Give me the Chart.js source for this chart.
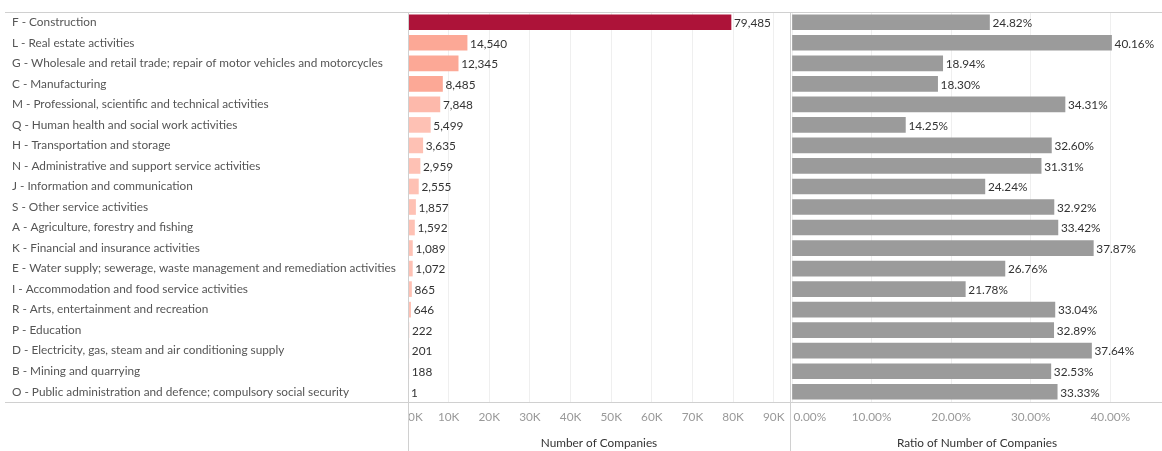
<!DOCTYPE html>
<html><head><meta charset="utf-8">
<script src="https://cdn.jsdelivr.net/npm/chart.js@4"></script>
<style>
html,body{margin:0;padding:0;background:#fff;}
#wrap{position:relative;width:1162px;height:451px;overflow:hidden;}
#c1{position:absolute;left:0;top:0;}
#c2{position:absolute;left:791px;top:0;}
</style></head><body>
<div id="wrap"><canvas id="c1" width="791" height="451"></canvas><canvas id="c2" width="371" height="451"></canvas></div>
<script>
const categories = [
  "F - Construction",
  "L - Real estate activities",
  "G - Wholesale and retail trade; repair of motor vehicles and motorcycles",
  "C - Manufacturing",
  "M - Professional, scientific and technical activities",
  "Q - Human health and social work activities",
  "H - Transportation and storage",
  "N - Administrative and support service activities",
  "J - Information and communication",
  "S - Other service activities",
  "A - Agriculture, forestry and fishing",
  "K - Financial and insurance activities",
  "E - Water supply; sewerage, waste management and remediation activities",
  "I - Accommodation and food service activities",
  "R - Arts, entertainment and recreation",
  "P - Education",
  "D - Electricity, gas, steam and air conditioning supply",
  "B - Mining and quarrying",
  "O - Public administration and defence; compulsory social security"
];
const companies = [79485,14540,12345,8485,7848,5499,3635,2959,2555,1857,1592,1089,1072,865,646,222,201,188,1];
const ratioPct = [24.82,40.16,18.94,18.30,34.31,14.25,32.60,31.31,24.24,32.92,33.42,37.87,26.76,21.78,33.04,32.89,37.64,32.53,33.33];
const companyTicks = [0,10000,20000,30000,40000,50000,60000,70000,80000,90000];
const ratioTicks = [0,10,20,30,40];
const axisTitles = ["Number of Companies","Ratio of Number of Companies"];

const FONT = "Lato";
const FS = 11.8;
function colorFor(v){
  if (v > 50000) return '#AD1339';
  if (v > 8000) return '#FCA896';
  if (v > 6000) return '#FDB9AB';
  return '#FEC1B4';
}
const LINE = '#d0d0d0';

const valueLabels = (fmt) => ({
  id:'valueLabels',
  afterDatasetsDraw(chart){
    const ctx = chart.ctx;
    const meta = chart.getDatasetMeta(0);
    ctx.save();
    ctx.font = FS + 'px ' + FONT;
    ctx.fillStyle = '#333';
    ctx.textBaseline = 'middle';
    ctx.textAlign = 'left';
    meta.data.forEach((el,i)=>{
      const v = chart.data.datasets[0].data[i];
      ctx.fillText(fmt(v), el.x + 3, el.y + 1);
    });
    ctx.restore();
  }
});

const frame = (verticals, hStart) => ({
  id:'frame',
  afterDraw(chart){
    const ctx = chart.ctx;
    const W = chart.width;
    ctx.save();
    ctx.strokeStyle = LINE;
    ctx.lineWidth = 1;
    ctx.beginPath();
    ctx.moveTo(hStart, 12.5); ctx.lineTo(W, 12.5);
    ctx.moveTo(hStart, 402.5); ctx.lineTo(W, 402.5);
    verticals.forEach(x=>{ ctx.moveTo(x+0.5, 12); ctx.lineTo(x+0.5, 451); });
    ctx.stroke();
    ctx.restore();
  }
});

function keepTicks(list){
  return function(scale){ scale.ticks = list.map(v=>({value:v})); };
}

const common = {
  responsive:false,
  devicePixelRatio:1,
  animation:false,
  indexAxis:'y',
  plugins:{legend:{display:false}, tooltip:{enabled:false}},
};

new Chart(document.getElementById('c1'), {
  type:'bar',
  data:{labels:categories, datasets:[{data:companies, backgroundColor:companies.map(colorFor), barThickness:15, borderWidth:0}]},
  options:Object.assign({}, common, {
    layout:{padding:{left:12, top:12, right:1, bottom:0}},
    scales:{
      y:{
        grid:{display:false}, border:{display:false},
        ticks:{crossAlign:'far', color:'#555', font:{family:FONT, size:FS}, autoSkip:false},
        afterFit(s){ s.width = 396; }
      },
      x:{
        min:0, max:94000,
        afterBuildTicks: keepTicks(companyTicks),
        grid:{color:'#efefef', drawTicks:false}, border:{display:false},
        ticks:{color:'#999', font:{family:FONT, size:FS}, padding:8, maxRotation:0, autoSkip:false,
          callback:(v)=> v===0 ? '\u2002\u2002 0K' : (v/1000)+'K'},
        title:{display:true, text:axisTitles[0], color:'#333', font:{family:FONT, size:FS}, padding:{top:0,bottom:1}},
        afterFit(s){ s.height = 49; s.paddingLeft = 0; s.paddingRight = 0; }
      }
    }
  }),
  plugins:[valueLabels(v=>v.toLocaleString('en-US')), frame([408,790], 5)]
});

new Chart(document.getElementById('c2'), {
  type:'bar',
  data:{labels:categories, datasets:[{data:ratioPct, backgroundColor:'#9B9B9B', barThickness:15, borderWidth:0}]},
  options:Object.assign({}, common, {
    layout:{padding:{left:1, top:12, right:0, bottom:0}},
    scales:{
      y:{display:false},
      x:{
        min:0, max:46.5,
        afterBuildTicks: keepTicks(ratioTicks),
        grid:{color:'#efefef', drawTicks:false}, border:{display:false},
        ticks:{color:'#999', font:{family:FONT, size:FS}, padding:8, maxRotation:0, autoSkip:false,
          callback:(v)=> v===0 ? '\u2002\u2002\u2002\u2002\u2002  0.00%' : v.toFixed(2)+'%'},
        title:{display:true, text:axisTitles[1], color:'#333', font:{family:FONT, size:FS}, padding:{top:0,bottom:1}},
        afterFit(s){ s.height = 49; s.paddingLeft = 0; s.paddingRight = 0; }
      }
    }
  }),
  plugins:[valueLabels(v=>v.toFixed(2)+'%'), frame([], 0)]
});
</script>
</body></html>
